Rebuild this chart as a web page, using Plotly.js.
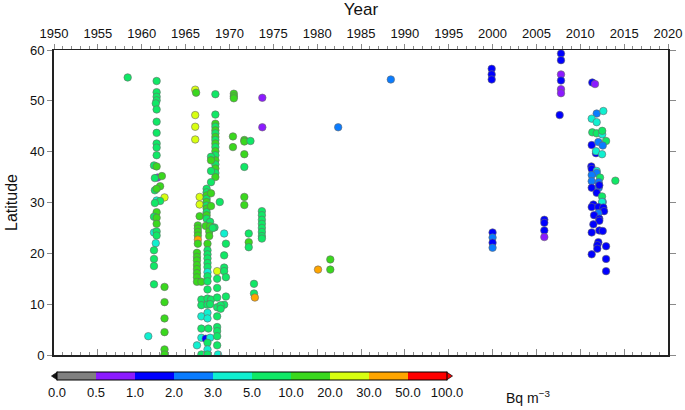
<!DOCTYPE html>
<html><head><meta charset="utf-8">
<script src="https://cdn.plot.ly/plotly-3.0.1.min.js"></script>
<style>html,body{margin:0;padding:0;background:#fff}#chart{width:685px;height:410px}</style>
</head><body><div id="chart"></div>
<script>
// ---- concentration classes (Bq m^-3) ----
const binEdges  = [0, 0.5, 1, 2, 3, 5, 10, 20, 30, 50, 100];
const binLabels = ['0.0','0.5','1.0','2.0','3.0','5.0','10.0','20.0','30.0','50.0','100.0'];
const binColors = ['#808080','#8c1aff','#0000ff','#0a7cff','#10f0d0','#10e866','#3ad81e','#d8ff10','#ffa500','#ff0000'];

// ---- samples 1958-1963 ----
const yearA = [1958.4,1961.8,1961.7,1961.7,1961.7,1961.7,1961.7,1961.6,1961.7,1961.7,
  1961.7,1961.7,1961.7,1961.7,1961.4,1961.7,1961.5,1962.3,1962.1,1961.5,
  1961.7,1962.6,1962.1,1961.5,1961.7,1961.4,1961.7,1961.7,1961.4,1961.7,
  1961.7,1961.6,1961.4,1961.4,1961.4,1961.4,1962.6,1962.6,1962.6,1962.6,
  1960.75,1962.6,1962.6];
const latA = [54.6,34.9,30.4,53.9,51.7,50.8,50.1,49.5,48.3,45.9,
  43.7,41.6,40.8,39.3,37.3,37.1,34.8,35.2,33.2,32.4,
  32.7,31.0,30.3,29.9,28.1,27.2,27.0,25.8,24.1,24.3,
  23.5,22.0,20.6,18.9,17.5,13.9,13.4,10.4,7.2,4.5,
  3.7,1.1,0.1];
const concA = [7,0.7,4,7,7,7,7,7,7,7,
  7,7,7,7,7,15,7,15,15,7,
  15,25,7,7,15,7,15,15,4,7,
  7,4,7,7,7,7,15,15,15,15,
  4,15,15];

// ---- samples 1966 ----
const yearB = [1966.1,1966.2,1966.1,1966.1,1966.1,1966.6,1966.6,1966.6,1966.4,1966.4,
  1966.4,1966.4,1966.4,1966.4,1966.3,1966.3,1966.3,1966.3,1966.3,1966.3,
  1966.3,1966.3,1966.8,1966.8,1966.8,1966.8,1966.8,1966.8,1966.3,1966.8];
const latB = [52.2,51.6,47.2,44.9,42.4,31.1,29.6,27.3,25.5,24.9,
  24.2,23.5,22.7,21.9,20.1,19.3,18.6,17.7,16.9,16.1,
  15.3,14.4,14.4,10.9,9.8,7.6,5.2,3.4,1.9,0.1];
const concB = [25,15,25,25,25,25,25,15,15,15,
  15,15,40,15,15,15,15,15,15,15,
  15,15,15,7,7,4,7,4,4,7];

// ---- samples 1967 ----
const yearC = [1967.4,1967.4,1967.4,1967.4,1967.4,1967.4,1967.4,1967.4,1967.4,1967.4,
  1967.9,1967.9,1967.8,1967.3,1967.8,1968.3,1967.7,1967.7,1967.5,1967.5,
  1967.5,1967.5,1967.5,1967.5,1967.5,1967.5,1967.5,1967.5,1967.5,1967.9,
  1967.5,1967.8,1967.5,1967.5,1967.6,1967.3,1967.8,1967.5,1967.5,1967.5];
const latC = [32.7,32.0,31.4,30.7,30.1,29.4,28.8,28.1,27.5,26.8,
  31.8,29.3,26.2,25.4,25.3,25.1,24.3,23.4,21.9,20.6,
  19.8,19.0,18.1,17.3,16.3,15.5,14.5,12.9,11.1,10.9,
  9.9,10.0,8.3,7.2,5.2,3.2,3.4,2.4,1.1,0.1];
const concC = [7,7,15,7,15,7,15,7,15,7,
  15,15,7,15,15,7,15,15,15,7,
  7,7,7,7,4,7,7,7,7,7,
  7,7,4,4,7,1.5,4,7,4,7];

// ---- samples 1968-1969 ----
const yearD = [1968.4,1968.4,1968.4,1968.4,1968.4,1968.4,1968.4,1968.4,1968.4,1968.4,
  1968.4,1968.4,1968.4,1968.4,1968.4,1968.4,1968.4,
  1967.9,1967.9,1967.9,1967.9,1968.9,1968.1,1969.4,1969.6,1969.4,1968.6,
  1969.4,1969.4,1969.6,1968.6,1968.6,1968.6,1968.6,1969.4,1969.0,1969.6,
  1969.0,1968.6,1968.6,1968.6,1968.6,1968.6,1968.7];
const latD = [51.3,47.3,45.5,44.9,44.2,43.6,42.9,42.3,41.6,40.9,
  40.1,39.3,38.3,37.5,36.7,35.8,35.0,
  39.0,38.3,36.2,34.0,30.1,25.0,23.9,21.9,19.6,16.5,
  17.2,16.5,15.3,15.0,13.2,11.3,9.4,9.9,9.8,11.5,
  9.1,7.6,5.5,4.7,3.7,1.9,0.1];
const concD = [7,7,15,7,15,7,15,7,15,7,
  15,7,15,7,15,7,15,
  7,15,7,7,7,7,4,7,7,25,
  7,7,7,7,7,7,7,7,7,7,
  7,7,7,7,7,7,4];

// ---- samples 1970-1974 ----
const yearE = [1970.5,1970.5,1970.5,1970.4,1970.4,1971.7,1971.7,1972.4,1971.7,1971.7,
  1971.7,1971.7,1972.2,1972.2,1972.2,1972.8,1972.8,1972.9,1973.75,1973.75,
  1973.7,1973.7,1973.7,1973.7,1973.7,1973.7,1973.7,1973.7];
const latE = [51.4,50.9,50.5,43.0,40.9,42.3,42.0,42.1,39.5,37.0,
  31.1,29.5,23.9,22.2,21.2,14.0,12.1,11.3,50.6,44.8,
  28.3,27.5,26.6,25.8,25.0,24.2,23.4,22.9];
const concE = [15,15,15,15,15,15,15,7,15,7,
  15,15,7,15,7,7,7,40,0.7,0.7,
  7,7,7,7,7,7,7,7];

// ---- samples 1980-1989 ----
const yearF = [1980.1,1981.5,1981.5,1982.4,1988.4];
const latF  = [16.8,18.8,16.8,44.8,54.2];
const concF = [40,15,15,2.5,2.5];

// ---- samples 2000-2008 ----
const yearG = [1999.9,1999.9,1999.9,2000.0,2000.0,2000.0,2000.0,2005.9,2005.9,2005.9,
  2005.9,2007.8,2007.8,2007.8,2007.8,2007.8,2007.8,2007.65];
const latG = [56.3,55.2,54.2,24.1,23.1,22.1,21.1,26.6,26.0,24.5,
  23.2,59.3,58.0,55.2,54.0,52.3,51.5,47.2];
const concG = [1.5,1.5,1.5,1.5,2.5,1.5,2.5,1.5,1.5,1.5,
  0.7,1.5,1.5,0.7,1.5,0.7,0.7,1.5];

// ---- samples 2011-2014 ----
const yearH = [2011.37,2011.68,2011.87,2012.63,2011.30,2011.87,2011.37,2011.87,2012.5,2012.5,
  2012.94,2011.30,2012.06,2012.56,2011.79,2011.79,2012.48,2011.26,2011.30,2011.87,
  2011.87,2011.30,2012.25,2014.0,2011.30,2012.1,2011.30,2012.1,2012.17,2011.87,
  2012.48,2012.56,2012.48,2011.49,2011.30,2012.06,2012.63,2012.71,2012.06,2011.57,
  2012.17,2012.17,2011.49,2011.30,2012.17,2012.56,2012.06,2011.94,2011.94,2012.94,
  2011.30,2012.94,2012.94];
const latH = [53.6,53.3,47.5,48.0,46.5,45.8,43.8,43.6,43.4,44.1,
  42.1,41.3,41.9,41.2,39.7,40.1,39.5,37.1,36.6,36.2,
  35.8,35.4,34.9,34.3,34.2,34.0,32.9,32.9,33.4,31.9,
  31.2,30.1,30.1,29.6,29.1,29.1,29.0,28.3,27.9,27.5,
  26.8,26.4,25.7,24.1,24.5,24.4,22.2,21.6,20.9,21.4,
  19.8,18.9,16.5];
const concH = [1.5,0.7,2.5,4,4,4,7,7,4,7,
  7,1.5,2.5,2.5,1.5,4,4,1.5,1.5,4,
  2.5,2.5,7,7,2.5,2.5,1.5,2.5,1.5,1.5,
  7,2.5,4,1.5,1.5,1.5,1.5,1.5,2.5,1.5,
  1.5,1.5,1.5,1.5,1.5,1.5,1.5,1.5,1.5,1.5,
  1.5,1.5,1.5];

const years = [].concat(yearA,yearB,yearC,yearD,yearE,yearF,yearG,yearH);
const lats  = [].concat(latA,latB,latC,latD,latE,latF,latG,latH);
const concs = [].concat(concA,concB,concC,concD,concE,concF,concG,concH);

function binIndex(v){
  for (let i = 0; i < binEdges.length - 1; i++) if (v >= binEdges[i] && v < binEdges[i+1]) return i;
  return binEdges.length - 2;
}
const nb = binColors.length;
const colorscale = [];
binColors.forEach((c,i)=>{ colorscale.push([i/nb, c]); colorscale.push([(i+1)/nb, c]); });

// layout geometry (pixels)
const L = 54, T = 50, W = 614, H = 305;
const px = p => (p - L) / W;
const py = p => (T + H - p) / H;

const FONT = 'Liberation Sans, Arial, Helvetica, sans-serif';
const tickGray = '#8a8a8a';

const trace = {
  type: 'scatter', mode: 'markers',
  x: years, y: lats,
  marker: {
    size: 7.5,
    color: concs.map(v => binIndex(v) + 0.5),
    cmin: 0, cmax: nb,
    colorscale: colorscale,
    line: {width: 0.6, color: '#6a6a6a'},
    showscale: true,
    colorbar: {
      orientation: 'h',
      len: 390, lenmode: 'pixels',
      thickness: 8, thicknessmode: 'pixels',
      x: px(252), xanchor: 'center',
      y: py(372), yanchor: 'top',
      xpad: 0, ypad: 0,
      outlinewidth: 1, outlinecolor: '#000',
      tickmode: 'array',
      tickvals: binLabels.map((_, i) => i),
      ticktext: binLabels,
      ticks: '',
      tickfont: {size: 13, color: '#111', family: FONT}
    }
  },
  hoverinfo: 'x+y'
};
const dummy = {type: 'scatter', x: [], y: [], xaxis: 'x2', yaxis: 'y2', showlegend: false};

const layout = {
  width: 685, height: 410,
  margin: {l: L, r: 685 - L - W, t: T, b: 410 - T - H, pad: 0},
  paper_bgcolor: '#fff', plot_bgcolor: '#fff',
  showlegend: false,
  font: {family: FONT, color: '#111', size: 13},
  xaxis: {
    range: [1950, 2020], tick0: 1950, dtick: 5,
    ticks: 'inside', ticklen: 6, tickcolor: tickGray, tickwidth: 1,
    minor: {dtick: 1, ticks: 'inside', ticklen: 3, tickcolor: tickGray, showgrid: false},
    showticklabels: false, showgrid: false, zeroline: false,
    showline: true, linecolor: '#222', linewidth: 1.5
  },
  xaxis2: {
    overlaying: 'x', side: 'top', anchor: 'y',
    range: [1950, 2020], tick0: 1950, dtick: 5,
    ticks: 'outside', ticklen: 5, tickcolor: tickGray, tickwidth: 1,
    minor: {dtick: 1, ticks: 'outside', ticklen: 3, tickcolor: tickGray, showgrid: false},
    tickfont: {size: 13, color: '#111'},
    showgrid: false, zeroline: false,
    showline: true, linecolor: '#222', linewidth: 1.5,
    title: {text: 'Year', font: {size: 17, color: '#111'}, standoff: 6}
  },
  yaxis: {
    range: [0, 60], tick0: 0, dtick: 10,
    ticks: 'outside', ticklen: 5, tickcolor: tickGray, tickwidth: 1,
    tickfont: {size: 13, color: '#111'},
    showgrid: false, zeroline: false,
    showline: true, linecolor: '#222', linewidth: 2,
    title: {text: 'Latitude', font: {size: 16, color: '#111'}, standoff: 8}
  },
  yaxis2: {
    overlaying: 'y', side: 'right', anchor: 'x',
    range: [0, 60], tick0: 0, dtick: 10,
    ticks: 'outside', ticklen: 6, tickcolor: tickGray, tickwidth: 1,
    showticklabels: false, showgrid: false, zeroline: false,
    showline: true, linecolor: '#222', linewidth: 2
  },
  shapes: [
    {type: 'path', xref: 'paper', yref: 'paper', layer: 'above',
     path: `M ${px(51.5)} ${py(376)} L ${px(57.5)} ${py(372)} L ${px(57.5)} ${py(380)} Z`,
     fillcolor: '#111', line: {color: '#111', width: 0.8}},
    {type: 'path', xref: 'paper', yref: 'paper', layer: 'above',
     path: `M ${px(452.5)} ${py(376)} L ${px(446.5)} ${py(372)} L ${px(446.5)} ${py(380)} Z`,
     fillcolor: '#ff0000', line: {color: '#111', width: 0.8}}
  ],
  annotations: [
    {xref: 'paper', yref: 'paper', x: px(528), y: py(397), xanchor: 'center', yanchor: 'middle',
     text: 'Bq m<sup>−3</sup>', showarrow: false, font: {size: 14, color: '#111'}}
  ]
};

Plotly.newPlot('chart', [trace, dummy], layout, {displayModeBar: false, staticPlot: true});
</script></body></html>
